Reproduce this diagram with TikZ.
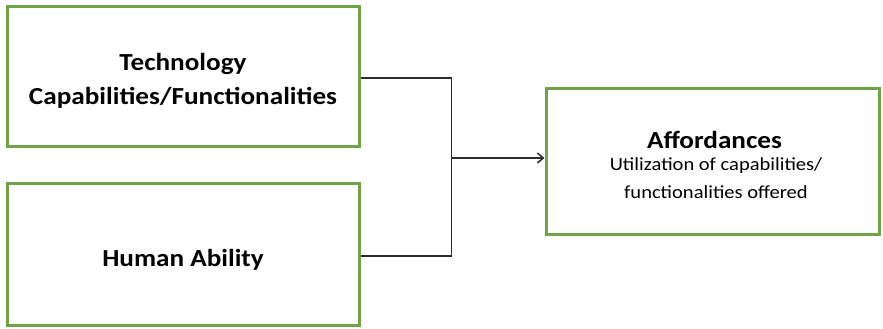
\documentclass[tikz,border=0pt]{standalone}
\usepackage{fontspec}
\setmainfont{Carlito}[FakeStretch=1.11]
\usetikzlibrary{arrows.meta}
\definecolor{boxgreen}{RGB}{112,163,72}
\definecolor{linegray}{RGB}{45,45,45}
\begin{document}
\begin{tikzpicture}[x=1pt,y=-1pt,
  gbox/.style={draw=boxgreen,line width=3pt,fill=white,inner sep=0pt},
  title/.style={anchor=base,inner sep=0pt,font=\fontsize{24.5}{30}\selectfont\bfseries},
  sub/.style={anchor=base,inner sep=0pt,font=\fontsize{18.5}{22}\selectfont},
  conn/.style={draw=linegray,line width=1.5pt}]
\useasboundingbox (0,0) rectangle (883,329);
\node[gbox,minimum width=352pt,minimum height=140pt] (tech) at (183,76.5) {};
\node[gbox,minimum width=352pt,minimum height=142pt] (human) at (183,254.5) {};
\node[gbox,minimum width=333pt,minimum height=146pt] (aff) at (712.5,161.5) {};
\node[title] (t1) at (183,70.5) {Technology};
\node[title] (t2) at (183,104) {Capabilities/Functionalities};
\node[title] (h1) at (183,266) {Human Ability};
\node[title] (a1) at (714.5,148) {Affordances};
\node[sub] (a2) at (716,170) {Utilization of capabilities/};
\node[sub] (a3) at (716,198) {functionalities offered};
\coordinate (j) at (451,158);
\draw[conn] ([yshift=-1.5pt]tech.east) -- ++(91,0) |- ([yshift=-1.5pt]human.east);
\draw[conn,-{Straight Barb[length=6pt,width=10pt]}] (j) -- (aff.west |- j);
\end{tikzpicture}
\end{document}
